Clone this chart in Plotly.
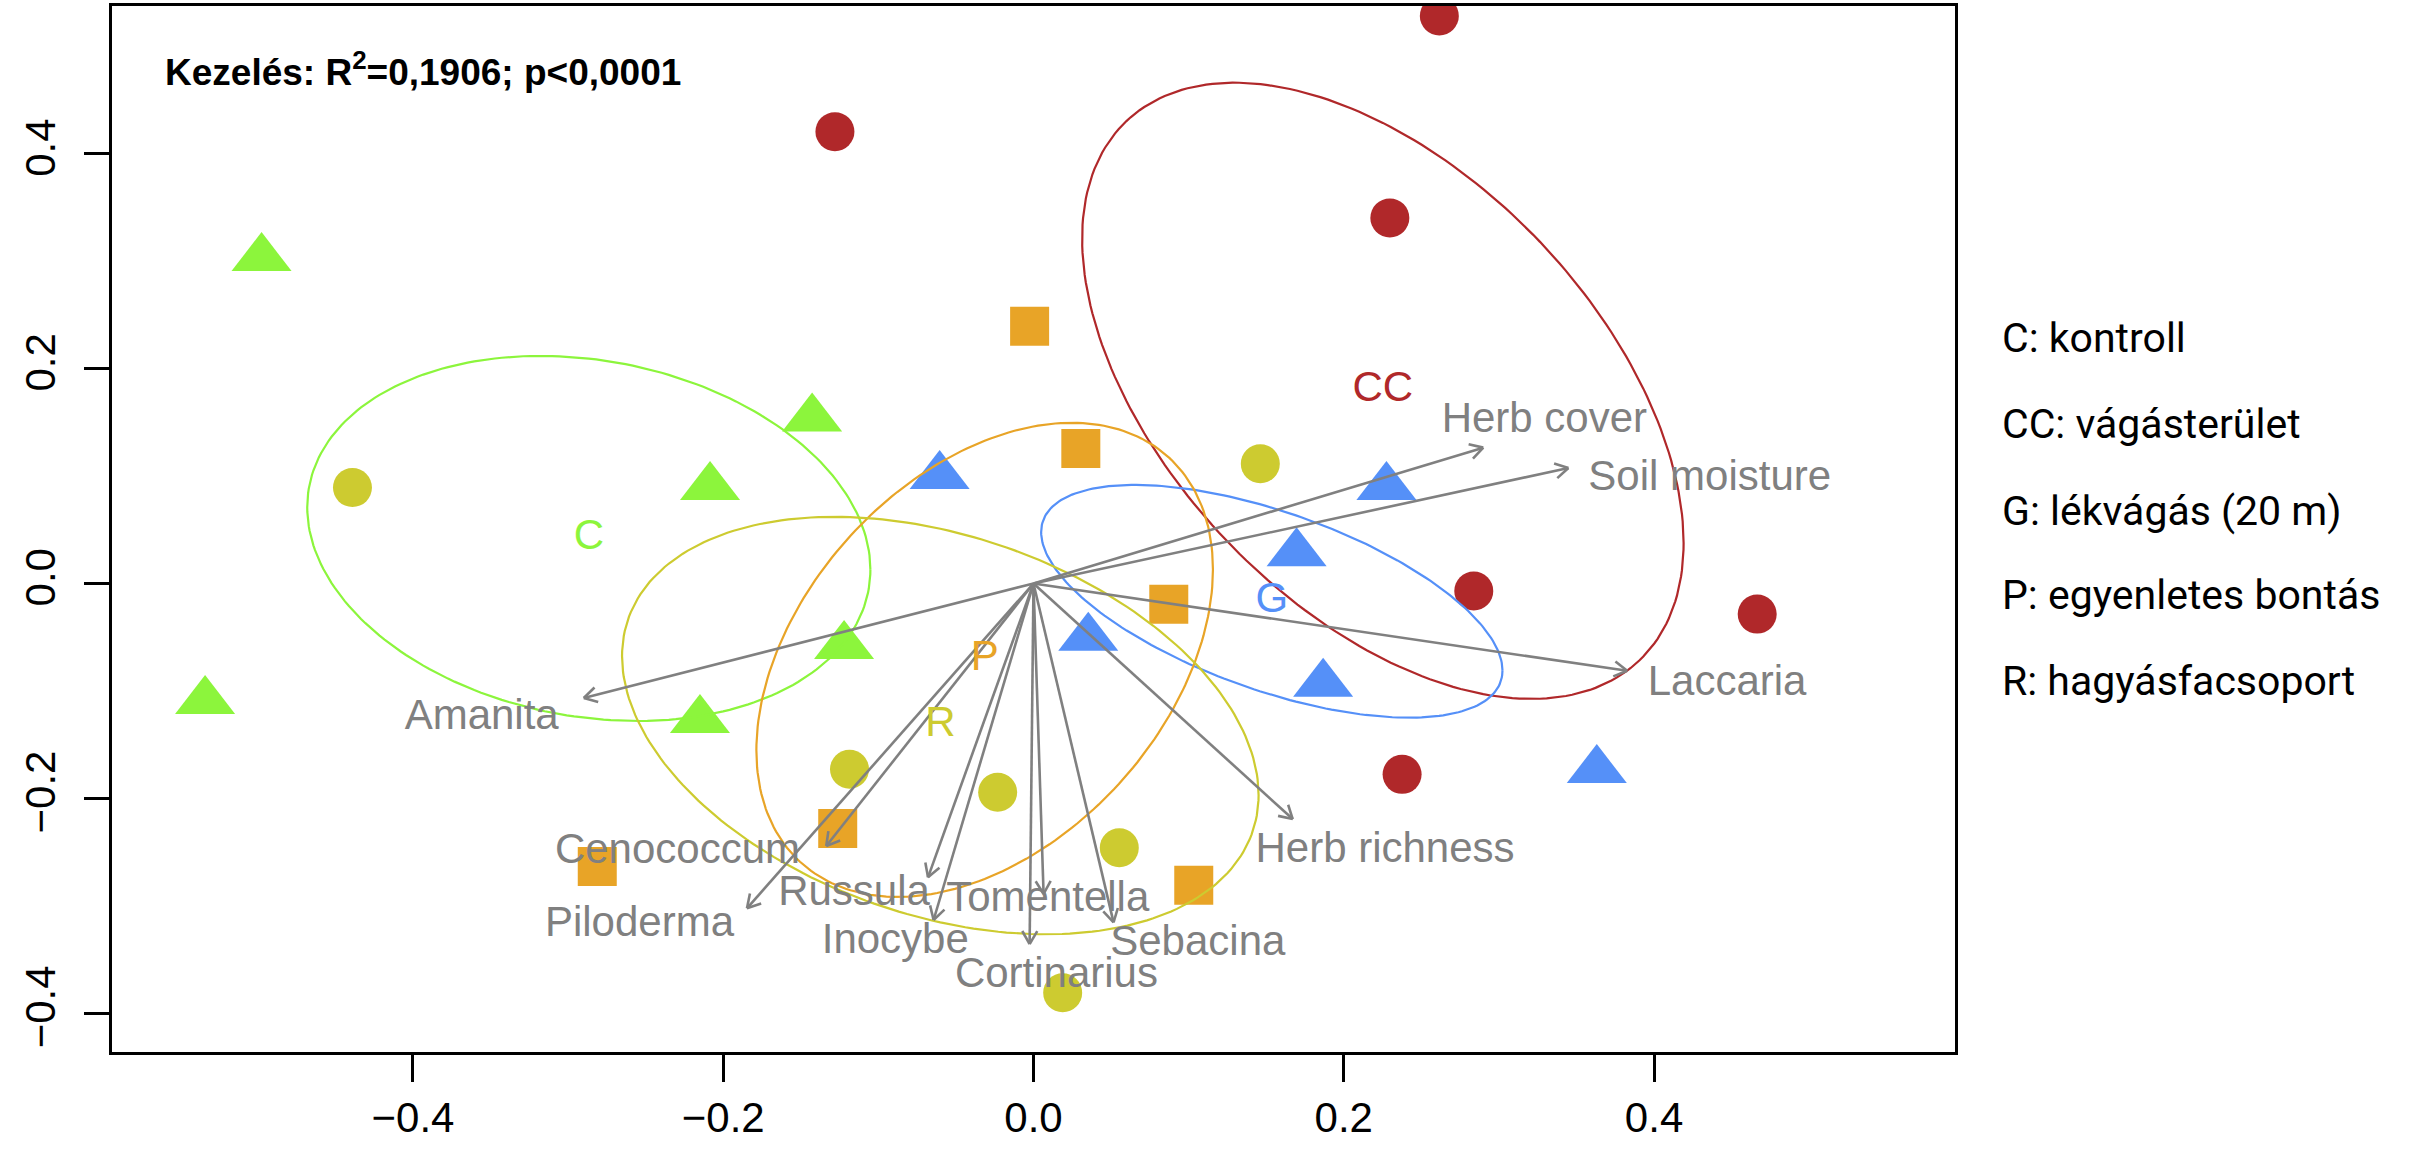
import numpy as np
import plotly.graph_objects as go

# ---------------------------------------------------------------------------
# Site scores on the two ordination axes, one pair of lists per treatment
# ---------------------------------------------------------------------------
treatments = ["C", "CC", "G", "P", "R"]

c_x = [-0.4976, -0.1427, -0.2085, -0.1221, -0.5340, -0.2150]
c_y = [0.3030, 0.1536, 0.0899, -0.0582, -0.1095, -0.1271]

cc_x = [-0.1280, 0.2616, 0.2297, 0.2838, 0.4665, 0.2376]
cc_y = [0.4207, 0.5285, 0.3404, -0.0070, -0.0285, -0.1777]

g_x = [-0.0605, 0.2275, 0.1696, 0.0353, 0.1867, 0.3631]
g_y = [0.1002, 0.0899, 0.0282, -0.0506, -0.0934, -0.1737]

p_x = [-0.0025, 0.0305, 0.0872, -0.1262, -0.2812, 0.1033]
p_y = [0.2395, 0.1258, -0.0194, -0.2280, -0.2634, -0.2810]

r_x = [-0.4390, 0.1462, -0.1186, -0.0231, 0.0553, 0.0188]
r_y = [0.0893, 0.1115, -0.1730, -0.1944, -0.2460, -0.3810]

# Fitted environmental / taxon vectors (arrow end points)
vector_names = ["Herb cover", "Soil moisture", "Laccaria", "Herb richness",
                "Amanita", "Cenococcum", "Piloderma", "Russula", "Inocybe",
                "Tomentella", "Cortinarius", "Sebacina"]
vector_x = [0.2899, 0.3448, 0.3827, 0.1671, -0.2899, -0.1336, -0.1847,
            -0.0680, -0.0644, 0.0065, -0.0025, 0.0516]
vector_y = [0.1265, 0.1075, -0.0813, -0.2193, -0.1066, -0.2444, -0.3024,
            -0.2736, -0.3133, -0.2891, -0.3357, -0.3155]

# Axis ticks
x_tick_vals = [-0.4, -0.2, 0.0, 0.2, 0.4]
x_tick_text = ["\u22120.4", "\u22120.2", "0.0", "0.2", "0.4"]
y_tick_vals = [-0.4, -0.2, 0.0, 0.2, 0.4]
y_tick_text = ["\u22120.4", "\u22120.2", "0.0", "0.2", "0.4"]

# Texts
stat_text = "Kezelés: R<sup>2</sup>=0,1906; p&lt;0,0001"
legend_lines = ["C: kontroll", "CC: vágásterület", "G: lékvágás (20 m)",
                "P: egyenletes bontás", "R: hagyásfacsoport"]

# ---------------------------------------------------------------------------
# Styling / layout
# ---------------------------------------------------------------------------
W, H = 2422, 1153
M_L, M_R, M_T, M_B = 112, 467, 6, 101
X_RANGE = [-0.594, 0.594]
Y_RANGE = [-0.4362, 0.5377]
PLOT_W = W - M_L - M_R
PLOT_H = H - M_T - M_B
KX = PLOT_W / (X_RANGE[1] - X_RANGE[0])   # pixels per x unit
KY = PLOT_H / (Y_RANGE[1] - Y_RANGE[0])   # pixels per y unit

colors = {"C": "#8cf53c", "CC": "#b0282a", "G": "#5590f8",
          "P": "#e8a427", "R": "#cdcb30"}
symbols = {"C": "triangle-up", "CC": "circle", "G": "triangle-up",
           "P": "square", "R": "circle"}
sizes = {"triangle-up": 52, "circle": 39, "square": 39}
GREY = "#808080"
SANS = "Liberation Sans, Arial, Helvetica, sans-serif"

# Positions of the vector labels (text centres, in axis units)
vector_label_pos = [(0.3293, 0.1507), (0.4359, 0.0972), (0.4471, -0.0943),
                    (0.2266, -0.2495), (-0.3557, -0.1253), (-0.2295, -0.2509),
                    (-0.2540, -0.3180), (-0.1157, -0.2891), (-0.0891, -0.3345),
                    (0.0092, -0.2954), (0.0148, -0.3661), (0.1059, -0.3357)]

groups = {"C": (c_x, c_y), "CC": (cc_x, cc_y), "G": (g_x, g_y),
          "P": (p_x, p_y), "R": (r_x, r_y)}

fig = go.Figure()

# Site points
for t in treatments:
    xs, ys = groups[t]
    sym = symbols[t]
    fig.add_trace(go.Scatter(
        x=xs, y=ys, mode="markers", showlegend=False, hoverinfo="skip",
        marker=dict(symbol=sym, size=sizes[sym], color=colors[t],
                    line=dict(width=0))))

# Standard-deviation ellipses around the treatment centroids
theta = np.linspace(0, 2 * np.pi, 241)
unit = np.vstack([np.cos(theta), np.sin(theta)])
for t in treatments:
    xs, ys = np.asarray(groups[t][0]), np.asarray(groups[t][1])
    centre = np.array([xs.mean(), ys.mean()])
    cov = np.cov(np.vstack([xs, ys]), ddof=1)
    chol = np.linalg.cholesky(cov)
    ring = centre[:, None] + chol @ unit
    fig.add_trace(go.Scatter(
        x=ring[0], y=ring[1], mode="lines", showlegend=False,
        hoverinfo="skip", line=dict(color=colors[t], width=2.2)))

# Vector arrows from the origin, with open heads drawn in screen space
HEAD_LEN = 15.0
HEAD_ANG = np.deg2rad(30)
ax_x, ax_y = [], []
for vx, vy in zip(vector_x, vector_y):
    ax_x += [0.0, vx, None]
    ax_y += [0.0, vy, None]
    d = np.array([vx * KX, vy * KY])
    d = d / np.linalg.norm(d)
    for s in (1, -1):
        c, sn = np.cos(s * HEAD_ANG), np.sin(s * HEAD_ANG)
        rx, ry = c * d[0] - sn * d[1], sn * d[0] + c * d[1]
        ax_x += [vx - HEAD_LEN * rx / KX, vx, None]
        ax_y += [vy - HEAD_LEN * ry / KY, vy, None]
fig.add_trace(go.Scatter(
    x=ax_x, y=ax_y, mode="lines", showlegend=False, hoverinfo="skip",
    line=dict(color=GREY, width=2.6)))

# Vector labels
fig.add_trace(go.Scatter(
    x=[p[0] for p in vector_label_pos], y=[p[1] for p in vector_label_pos],
    mode="text", text=vector_names, textposition="middle center",
    showlegend=False, hoverinfo="skip",
    textfont=dict(family=SANS, size=42, color=GREY)))

# Treatment labels at the centroids
for t in treatments:
    xs, ys = groups[t]
    fig.add_trace(go.Scatter(
        x=[float(np.mean(xs))], y=[float(np.mean(ys))], mode="text",
        text=[t], textposition="middle center", showlegend=False,
        hoverinfo="skip", textfont=dict(family=SANS, size=42, color=colors[t])))


def paper_x(px):
    return (px - M_L) / PLOT_W


def paper_y(py):
    return (H - M_B - py) / PLOT_H


annotations = [dict(
    text=stat_text, xref="paper", yref="paper",
    x=paper_x(163), y=paper_y(69), xanchor="left", yanchor="middle",
    showarrow=False,
    font=dict(family="Liberation Sans Narrow, Liberation Sans, sans-serif",
              size=37, weight="bold", color="black"))]

legend_y = [338, 424, 511, 595, 681]
for line, py in zip(legend_lines, legend_y):
    annotations.append(dict(
        text=line, xref="paper", yref="paper", x=paper_x(2000), y=paper_y(py),
        xanchor="left", yanchor="middle", showarrow=False,
        font=dict(family="Roboto, Liberation Sans, sans-serif", size=41,
                  color="black")))

axis_common = dict(
    showgrid=False, zeroline=False, showline=True, mirror=True,
    linecolor="black", linewidth=2.5, ticks="outside", tickwidth=2.5,
    tickcolor="black", tickfont=dict(family=SANS, size=42, color="black"),
    automargin=False)

fig.update_layout(
    width=W, height=H,
    margin=dict(l=M_L, r=M_R, t=M_T, b=M_B, pad=0),
    paper_bgcolor="white", plot_bgcolor="white",
    xaxis=dict(range=X_RANGE, tickvals=x_tick_vals, ticktext=x_tick_text,
               ticklen=27, **axis_common),
    yaxis=dict(range=Y_RANGE, tickvals=y_tick_vals, ticktext=y_tick_text,
               ticklen=25, tickangle=-90, ticklabelstandoff=12, **axis_common),
    annotations=annotations,
)

fig.write_html("out.html")
